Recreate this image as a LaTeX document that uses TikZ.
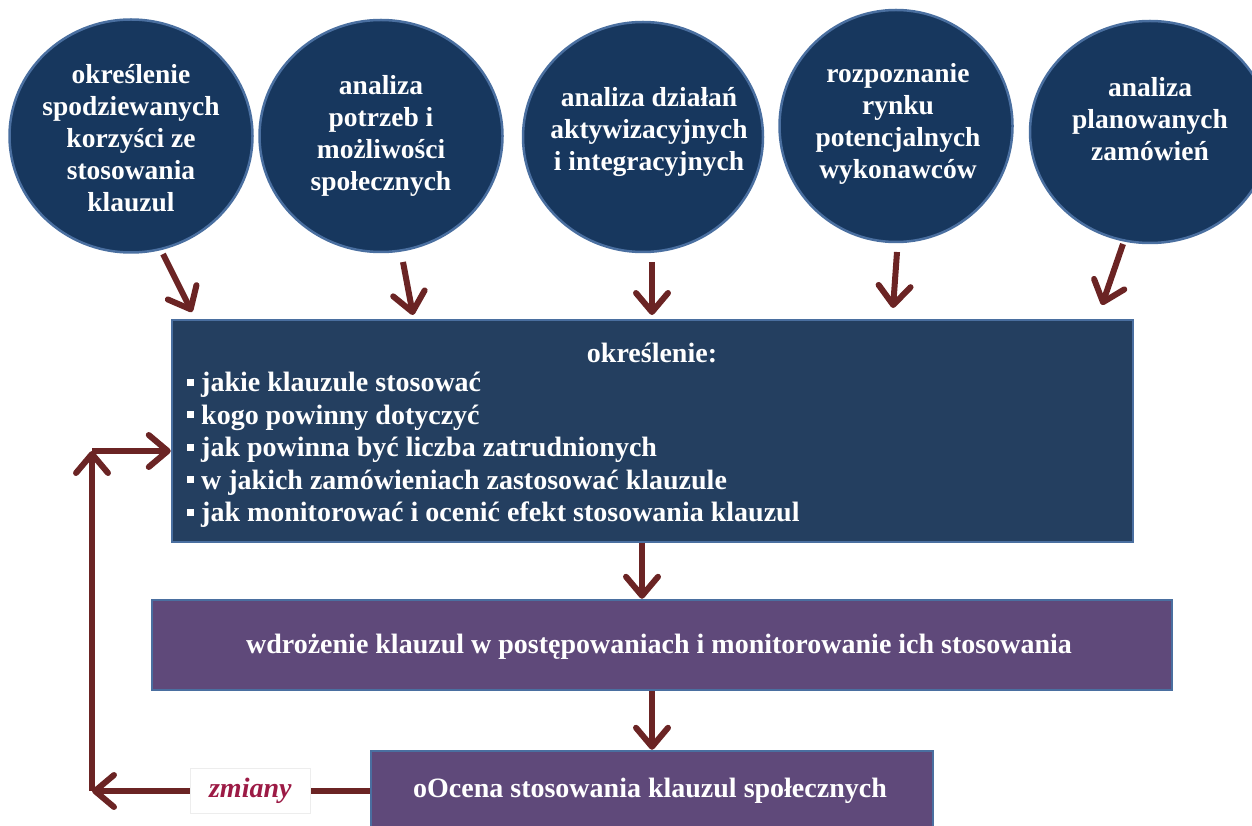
\documentclass[tikz,border=0pt]{standalone}
\usepackage{fontspec}
\setmainfont{Liberation Serif}
\usetikzlibrary{shapes.geometric,arrows.meta,calc}
\definecolor{cblue}{HTML}{17375E}
\definecolor{navy}{HTML}{243F60}
\definecolor{purp}{HTML}{5F497A}
\definecolor{edgeb}{HTML}{4A6FA0}
\definecolor{arrc}{HTML}{6B2424}
\definecolor{zm}{HTML}{9C1A45}
\begin{document}
\begin{tikzpicture}[x=1pt,y=-1pt,
  bubble/.style={ellipse, fill=cblue, draw=edgeb, line width=2.5pt, inner sep=0pt},
  ctext/.style={text=white, font=\fontsize{27.5}{32}\selectfont\bfseries, align=center, inner sep=0pt},
  boxn/.style={rectangle, draw=edgeb, line width=2.5pt, inner sep=0pt},
  btext/.style={text=white, font=\fontsize{28}{32.5}\selectfont\bfseries, inner sep=0pt},
  conn/.style={draw=arrc, line width=6pt, -{Straight Barb[length=19pt,width=32pt,round]}},
  ]
\useasboundingbox (0,0) rectangle (1252,826);
% circles
\node[bubble, minimum width=243pt, minimum height=233pt] (c1) at (131,136) {};
\node[bubble, minimum width=243pt, minimum height=232pt] (c2) at (381,136) {};
\node[bubble, minimum width=240pt, minimum height=230pt] (c3) at (643,137) {};
\node[bubble, minimum width=233pt, minimum height=232pt] (c4) at (896,126) {};
\node[bubble, minimum width=240pt, minimum height=222pt] (c5) at (1150,132) {};
\node[ctext] (t1) at (c1.center |- 0,138) {określenie\\spodziewanych\\korzyści ze\\stosowania\\klauzul};
\node[ctext] (t2) at (c2.center |- 0,136) {analiza\\potrzeb i\\możliwości\\społecznych};
\node[ctext] (t3) at (649,132) {analiza działań\\aktywizacyjnych\\i integracyjnych};
\node[ctext] (t4) at (898,124) {rozpoznanie\\rynku\\potencjalnych\\wykonawców};
\node[ctext] (t5) at (1150,119) {analiza\\planowanych\\zamówień};
% boxes
\node[boxn, fill=navy, minimum width=961pt, minimum height=222pt] (m) at (652.5,431) {};
\node[btext] (mt) at (652,353) {określenie:};
\node[btext, anchor=west, align=left] (ml) at (187,450) {%
\raisebox{6pt}{\rule{7pt}{7pt}} jakie klauzule stosować\\
\raisebox{6pt}{\rule{7pt}{7pt}} kogo powinny dotyczyć\\
\raisebox{6pt}{\rule{7pt}{7pt}} jak powinna być liczba zatrudnionych\\
\raisebox{6pt}{\rule{7pt}{7pt}} w jakich zamówieniach zastosować klauzule\\
\raisebox{6pt}{\rule{7pt}{7pt}} jak monitorować i ocenić efekt stosowania klauzul};
\node[boxn, fill=purp, minimum width=1020pt, minimum height=90pt] (w) at (662,645) {};
\node[btext] (wt) at (659,647) {wdrożenie klauzul w postępowaniach i monitorowanie ich stosowania};
\node[boxn, fill=purp, minimum width=562pt, minimum height=80pt] (b) at (652,791) {};
\node[btext] (bt) at (650,791) {oOcena stosowania klauzul społecznych};
% arrows from circles
\coordinate (a1s) at (163,254); \coordinate (a1e) at (192,312);
\coordinate (a2s) at (403,262); \coordinate (a2e) at (413,315);
\coordinate (a3s) at (652,262); \coordinate (a3e) at (652,315);
\coordinate (a4s) at (897,252); \coordinate (a4e) at (893,308);
\coordinate (a5s) at (1123,244); \coordinate (a5e) at (1102,305);
\draw[conn] (a1s) -- (a1e);
\draw[conn] (a2s) -- (a2e);
\draw[conn] (a3s) -- (a3e);
\draw[conn] (a4s) -- (a4e);
\draw[conn] (a5s) -- (a5e);
% vertical flow
\coordinate (d1) at (642,0);
\draw[conn] (m.south -| d1) -- (w.north -| d1);
\draw[conn] (w.south -| b.north) -- (b.north);
% feedback
\coordinate (k1) at (92,791);
\coordinate (k2) at (92,451);
\draw[conn] (b.west) -- (k1) node[pos=0.43, fill=white, draw=black!7, line width=0.8pt, minimum width=120pt, minimum height=45pt, text=zm, font=\fontsize{28}{30}\selectfont\bfseries\itshape] (lz) {zmiany};
\draw[conn] (k1) -- (k2);
\draw[conn] (k2) -- (k2 -| m.west);
\end{tikzpicture}
\end{document}
